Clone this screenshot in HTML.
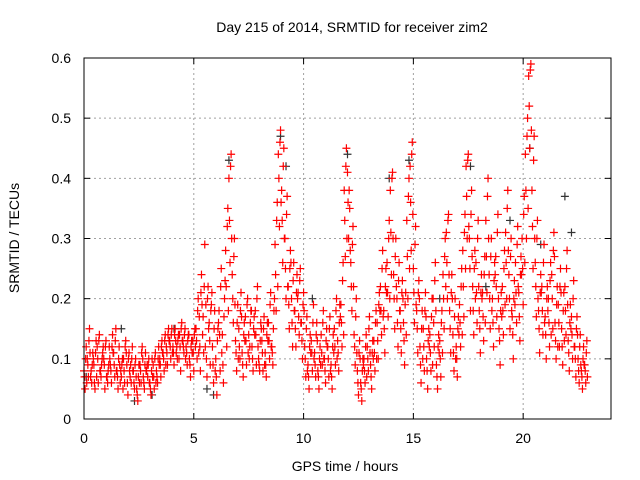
<!DOCTYPE html>
<html><head><meta charset="utf-8"><style>
html,body{margin:0;padding:0;background:#fff;}
svg{display:block;font-family:"Liberation Sans",sans-serif;}
</style></head><body>
<svg id="chart" width="640" height="480">
<text x="352" y="32" text-anchor="middle" font-size="14" fill="#000">Day 215 of 2014, SRMTID for receiver zim2</text>
<text x="345" y="471" text-anchor="middle" font-size="14" fill="#000">GPS time / hours</text>
<text x="19" y="238" text-anchor="middle" font-size="14" fill="#000" transform="rotate(-90 19 238)">SRMTID / TECUs</text>
<g id="grid"></g>
<g id="ticks"></g>
<g id="black"></g>
<g id="red"></g>
<rect x="84" y="58" width="527" height="361" fill="none" stroke="#000" stroke-width="1"/>
</svg>
<script>
const xTicks=[0,5,10,15,20];
const yTicks=[0,0.1,0.2,0.3,0.4,0.5,0.6];
const yTickLabels=["0","0.1","0.2","0.3","0.4","0.5","0.6"];
const timeStep=0.15;
const seriesA=[8,10,7,9,12,8,10,7,9,11, 8,6,10,9,7,8,5,9,7,8, 6,9,8,10,11,12,13, 12,11,14,13,12,10,13, 15,17,14,19,16,12,10,18,14,28, 40,24,13,15,11,17,14,12,18,10, 13,11,16,12,29,44,38,30,22,20, 18,21,16,12,9,13,11,8,14,10, 12,9,15,13,19,38,41,26,14,8, 6,10,12,9,13,16,22,18,26,38, 24,20,18,16,33,42,25,18,12,15, 10,14,20,9,13,24,31,18,14,12, 19,28,42,30,22,26,18,21,33,24, 20,27,15,22,31,24,17,26,21,30, 44,57,38,26,18,22,17,20,24,16, 19,15,22,13,17,12,10,8,9];
const seriesB=[5,7,6,5,6,9,5,8,6,7, 5,7,6,4,6,5,3,6,5,7, 4,5,6,7,8,9,10, 9,10,8,11,9,7,8, 10,8,11,7,9,6,4,8,6,12, 26,16,8,10,7,9,12,8,9,8, 8,7,10,9,18,32,26,20,15,12, 12,14,10,7,5,8,7,5,9,6, 7,5,9,8,12,27,30,18,9,4, 3,6,8,5,8,10,14,11,17,24, 15,12,11,9,20,28,16,11,6,8, 5,8,12,5,7,15,20,11,8,7, 12,17,30,18,14,16,11,13,21,15, 12,17,9,14,20,15,10,16,13,19, 30,45,25,17,11,14,10,12,15,10, 12,9,14,8,10,7,6,5,6];
const seriesC=[12,15,11,13,14,11,13,12,14,15, 12,10,13,11,12,10,9,12,11,10, 10,11,12,13,14,15,15, 15,14,16,15,14,13,15, 20,24,29,22,19,18,15,25,20,35, 44,30,19,21,16,20,18,17,22,16, 17,16,21,18,36,48,45,37,28,26, 24,25,21,17,14,19,16,12,18,15, 17,14,20,19,26,45,35,32,20,13, 10,14,17,13,18,21,28,25,33,41, 30,26,23,21,40,46,32,23,18,21, 15,20,26,14,18,30,34,24,20,17, 25,34,44,38,28,33,24,27,40,30, 26,34,21,28,38,30,23,32,27,37, 50,59,47,33,24,29,22,26,31,22, 25,21,28,19,23,17,14,12,13];
const seriesD=[7,9,8,6,10,7,9,6,8,9, 7,8,8,6,9,6,4,8,6,9, 5,7,7,9,10,11,12, 11,12,12,12,11,9,11, 13,12,17,10,13,9,7,14,9,22, 33,20,11,12,9,13,10,10,14,9, 11,9,13,11,24,40,33,25,19,16, 15,17,13,10,7,11,9,7,11,8, 10,7,12,11,16,33,36,22,12,6, 5,8,10,7,11,13,18,15,21,31, 20,16,15,13,27,36,21,15,9,12, 8,11,16,7,10,20,26,15,11,10, 16,22,37,25,18,21,15,17,27,20, 16,22,13,18,26,20,14,21,17,25, 38,52,32,22,15,18,14,16,20,13, 16,12,18,11,14,10,8,7,8];
const seriesE=[10,13,9,11,13,10,12,9,12,13, 10,9,12,10,10,9,7,11,9,9, 8,10,10,12,13,14,14, 14,13,15,14,13,12,14, 18,21,22,20,18,15,13,22,17,32, 42,27,16,18,14,19,16,15,20,13, 15,14,19,15,33,46,42,34,25,23, 21,23,19,15,12,16,14,10,16,13, 15,12,18,16,23,42,38,29,17,11, 8,12,15,11,16,19,25,22,30,40, 27,23,21,19,37,44,29,21,15,18, 13,17,23,12,16,27,33,21,17,15, 22,31,43,34,25,30,21,24,37,27, 23,31,18,25,35,27,20,29,24,34, 47,58,43,30,21,26,20,23,28,19, 22,18,25,16,20,15,12,10,11];
const seriesF=[6,11,10,7,8,12,7,10,11,8, 9,5,11,8,8,7,6,10,8,6, 7,6,9,11,9,13,11, 13,10,13,10,14,11,12, 11,19,12,15,21,8,16,11,23,18, 30,19,10,17,13,11,18,14,12,15, 9,13,12,20,22,36,30,22,26,18, 20,16,18,8,11,10,13,9,10,12, 8,11,10,17,14,30,28,22,11,10, 9,7,11,10,10,18,17,21,20,30, 22,18,20,14,25,34,19,20,10,17, 12,9,18,11,11,22,24,20,10,14, 14,25,32,27,20,22,20,16,30,18, 24,20,17,19,28,18,19,22,24,26, 35,48,30,20,21,16,18,14,27,12, 21,13,19,15,12,14,9,9,7];
const blackTimes=[0.1,1.7,3.1,4.1,5.6,6.6,8.95,9.2,12.0,13.9,14.8,16.2,17.6,19.4,20.3,20.8,21.9,22.2,5.9,10.4,2.3,18.3];
const blackValues=[0.07,0.15,0.04,0.15,0.05,0.43,0.47,0.42,0.44,0.40,0.43,0.2,0.42,0.33,0.45,0.29,0.37,0.31,0.04,0.2,0.03,0.22];

const X=t=>84+t*(527/24);
const Y=v=>419-v*(361/0.6);
const NS="http://www.w3.org/2000/svg";
function mk(tag,attrs,parent){const e=document.createElementNS(NS,tag);for(const k in attrs)e.setAttribute(k,attrs[k]);parent.appendChild(e);return e;}
const grid=document.getElementById('grid'),ticks=document.getElementById('ticks');
xTicks.forEach((t,i)=>{
  if(t>0){const l=mk('line',{x1:X(t),x2:X(t),y1:58,y2:419,stroke:'#a0a0a0','stroke-dasharray':'2,3'},grid);
  
  }
  mk('line',{x1:X(t),x2:X(t),y1:419,y2:413,stroke:'#000'},ticks);
  mk('line',{x1:X(t),x2:X(t),y1:58,y2:64,stroke:'#000'},ticks);
  const tx=mk('text',{x:X(t),y:443,'text-anchor':'middle','font-size':14},ticks);tx.textContent=String(t);
  
  
});
yTicks.forEach((v,i)=>{
  if(v>0&&v<0.6){const l=mk('line',{x1:84,x2:611,y1:Y(v),y2:Y(v),stroke:'#a0a0a0','stroke-dasharray':'2,3'},grid);
  
  }
  mk('line',{x1:84,x2:90,y1:Y(v),y2:Y(v),stroke:'#000'},ticks);
  mk('line',{x1:611,x2:605,y1:Y(v),y2:Y(v),stroke:'#000'},ticks);
  const tx=mk('text',{x:71,y:Y(v)+5,'text-anchor':'end','font-size':14},ticks);tx.textContent=yTickLabels[i];
  
  
});
function plus(g,t,v,c){
  const x=X(t),y=Y(v);
  const p=mk('path',{d:`M${x-4},${y}H${x+4}M${x},${y-4}V${y+4}`,stroke:c,'stroke-width':1.2,fill:'none'},g);
  
  
}
const bg=document.getElementById('black'),rg=document.getElementById('red');
blackTimes.forEach((t,i)=>plus(bg,t,blackValues[i],'#333'));
[[seriesA,0],[seriesD,0.025],[seriesB,0.05],[seriesE,0.075],[seriesC,0.1],[seriesF,0.125]].forEach(([s,off])=>{
  s.forEach((v,i)=>plus(rg,i*timeStep+off,v/100,'#ff0000'));
});
</script>
</body></html>
